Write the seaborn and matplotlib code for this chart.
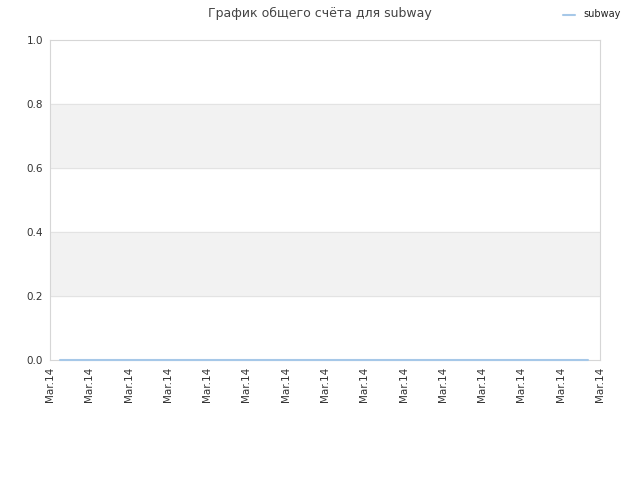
import numpy as np
import pandas as pd
import seaborn as sns
from matplotlib import pyplot as plt

# chart data
series_name = 'subway'
x_points = [0.25, 13.7]
scores = [0, 0]
tick_positions = list(range(15))
tick_labels = ['Mar.14'] * 15
y_ticks = [0.0, 0.2, 0.4, 0.6, 0.8, 1.0]

sns.set_style('white')
plt.rcParams['font.family'] = ['DejaVu Sans']

fig = plt.figure(figsize=(6.4, 4.8), dpi=100)
ax = fig.add_axes([50 / 640, 120 / 480, 550 / 640, 320 / 480])

for lo in [0.2, 0.6]:
    ax.axhspan(lo, lo + 0.2, color='#f2f2f2', zorder=0)
for y in y_ticks[1:-1]:
    ax.axhline(y, color='#e3e3e3', linewidth=0.8, zorder=0.5)

data = pd.DataFrame({'x': x_points, 'score': scores, 'name': series_name})
sns.lineplot(data=data, x='x', y='score', hue='name', palette=['#a6c8e8'],
             linewidth=1.5, ax=ax, legend=False)
for ln in ax.get_lines()[-1:]:
    ln.set_zorder(5)
    ln.set_clip_on(False)

ax.set_xlim(0, 14)
ax.set_ylim(0, 1)
ax.set_xticks(tick_positions)
ax.set_xticklabels(tick_labels, rotation=90, fontsize=7.5, color='#333333')
ax.set_yticks(y_ticks)
ax.set_yticklabels([f'{v:.1f}' for v in y_ticks], fontsize=7.5, color='#333333')
ax.tick_params(length=0, pad=5)
ax.set_xlabel('')
ax.set_ylabel('')
for s in ax.spines.values():
    s.set_color('#d6d6d6')
    s.set_linewidth(0.8)

fig.text(320 / 640, 1 - 13 / 480, 'График общего счёта для subway', ha='center', va='center',
         fontsize=9, color='#444444')
fig.lines.append(plt.Line2D([563 / 640, 575 / 640], [1 - 15 / 480, 1 - 15 / 480],
                            transform=fig.transFigure, color='#a6c8e8', linewidth=1.5))
fig.text(583 / 640, 1 - 14 / 480, series_name, ha='left', va='center', fontsize=7, color='#222222')

fig.savefig('out.png', dpi=100)
